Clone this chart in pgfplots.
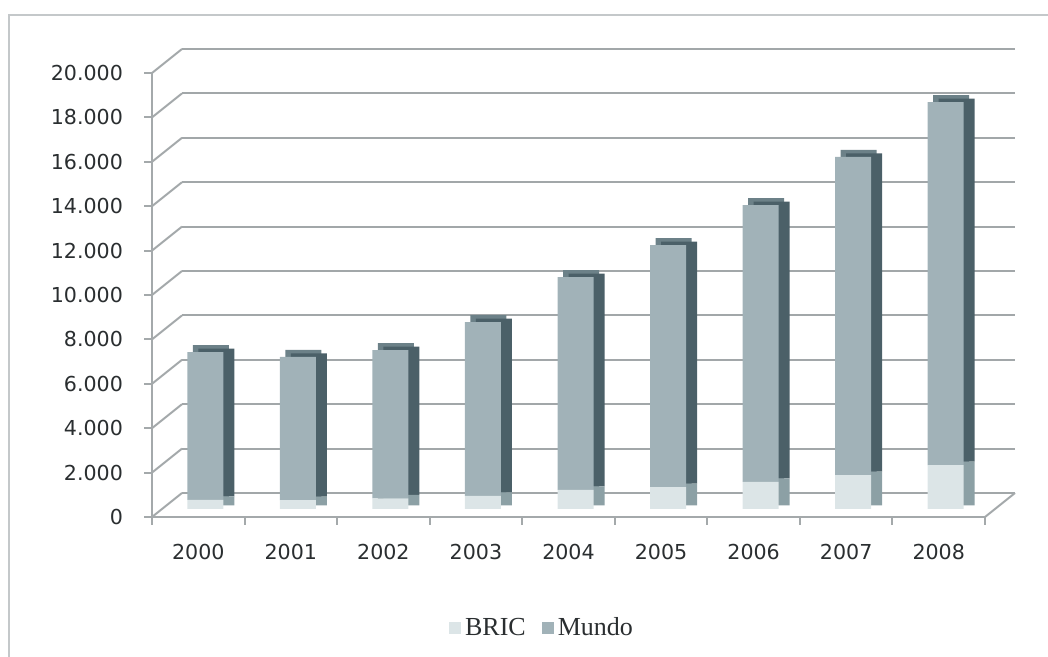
\documentclass[border=0pt]{standalone}
\usepackage{pgfplots}
\pgfplotsset{compat=1.18}
\usepackage{pgfplotstable}
\usepackage{fontspec}
\setmainfont{Liberation Serif}
\newfontfamily\tickfont{DejaVu Sans}

\definecolor{axgray}{HTML}{A4A9AB}
\definecolor{gridgray}{HTML}{A2A7A9}
\definecolor{framegray}{HTML}{C4C8CA}
\definecolor{bricface}{HTML}{DCE5E7}
\definecolor{mundoface}{HTML}{A1B2B8}
\definecolor{topface}{HTML}{6C8188}
\definecolor{bricside}{HTML}{8CA0A5}
\definecolor{mundoside}{HTML}{4B6068}
\definecolor{txt}{HTML}{2A2E30}

\pgfplotstableread{
x year BRIC Mundo
0 2000 410 6660
1 2001 400 6450
2 2002 480 6680
3 2003 590 7830
4 2004 860 9590
5 2005 990 10900
6 2006 1220 12470
7 2007 1530 14330
8 2008 1980 16350
}\datatable

\pgfplotsset{
  base/.style={scale only axis, width=416.5pt, height=222pt,
    xmin=-0.5, xmax=8.5, ymin=0, ymax=20000, anchor=south west,
    scaled y ticks=false},
  barax/.style={base, axis lines=none, xtick=\empty, ytick=\empty,
    ybar stacked, bar width=18pt},
  sq legend/.style={legend image code/.code={\fill[##1] (0pt,-3pt) rectangle (6pt,3pt);}},
}

\begin{document}
\begin{tikzpicture}
\useasboundingbox (0,0) rectangle (524pt,328.5pt);
\draw[framegray, line width=1pt] (4.5pt,0pt) -- (4.5pt,321pt) -- (524pt,321pt);

% back wall gridlines
\begin{axis}[base, at={(91pt,82pt)}, axis line style={draw=none},
  ytick={0,2000,4000,6000,8000,10000,12000,14000,16000,18000,20000},
  yticklabels=\empty, xtick=\empty,
  ymajorgrids, major grid style={gridgray, line width=1pt},
  ytick style={draw=none}]
\addplot[draw=none] coordinates {(0,0)};
\end{axis}

% front axis with ticks and labels
\begin{axis}[base, at={(76pt,70pt)}, clip=false,
  axis lines*=left, axis line style={draw=axgray, line width=1pt},
  ytick={0,2000,4000,6000,8000,10000,12000,14000,16000,18000,20000},
  xtick={0,...,8},
  xticklabels={2000,2001,2002,2003,2004,2005,2006,2007,2008},
  minor xtick={-0.5,0.5,...,8.5},
  tick align=outside, major tick length=4pt, minor tick length=4pt,
  ytick style={draw=axgray, line width=1pt},
  xtick style={draw=none},
  minor x tick style={draw=axgray, line width=1pt},
  /pgf/number format/.cd, 1000 sep={.}, assume math mode=true,
  /pgfplots/.cd,
  tick label style={font=\tickfont\fontsize{10.3}{12}\selectfont, text=txt},
  yticklabel style={xshift=-7pt},
  xticklabel style={yshift=-6pt}]
\addplot[draw=none] coordinates {(0,0)};
\pgfplotsinvokeforeach{0,2000,4000,6000,8000,10000,12000,14000,16000,18000,20000}{
  \draw[axgray, line width=1pt] (axis cs:-0.5,#1) -- ++(15pt,12pt);
}
\draw[axgray, line width=1pt] (axis cs:8.5,0) -- ++(15pt,12pt);
\end{axis}

% top faces
\begin{axis}[barax, at={(82.25pt,77.5pt)}]
\addplot[fill=topface, draw=none] table[x=x,y=BRIC]{\datatable};
\addplot[fill=topface, draw=none] table[x=x,y=Mundo]{\datatable};
\end{axis}

% side faces
\begin{axis}[barax, at={(85pt,75.75pt)}]
\addplot[fill=bricside, draw=none] table[x=x,y=BRIC]{\datatable};
\addplot[fill=mundoside, draw=none] table[x=x,y=Mundo]{\datatable};
\end{axis}

% front faces + legend
\begin{axis}[barax, at={(79.5pt,74pt)},
  legend style={at={(0.461,-0.268)}, anchor=center, draw=none, fill=none,
    legend columns=2, font=\fontsize{13}{15}\selectfont, text=txt,
    /tikz/every even column/.append style={column sep=6pt}}]
\addplot[fill=bricface, draw=none, sq legend] table[x=x,y=BRIC]{\datatable};
\addlegendentry{BRIC}
\addplot[fill=mundoface, draw=none, sq legend] table[x=x,y=Mundo]{\datatable};
\addlegendentry{Mundo}
\end{axis}
\end{tikzpicture}
\end{document}
